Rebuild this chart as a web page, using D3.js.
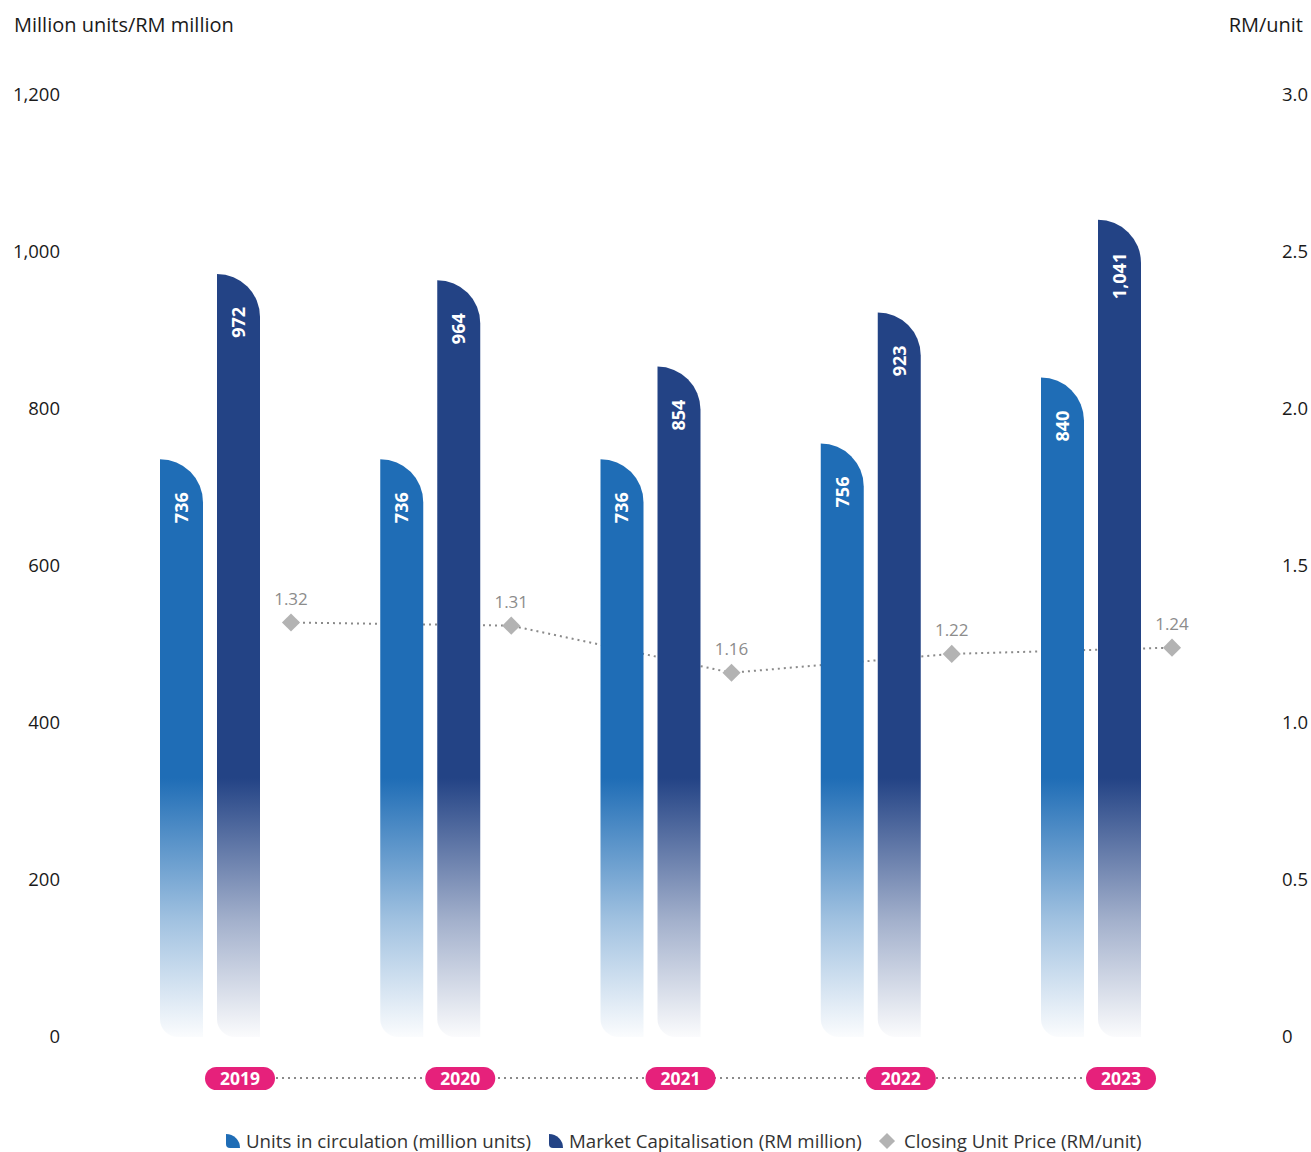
<!DOCTYPE html>
<html lang="en">
<head>
  <meta charset="UTF-8">
  <title>Units, Market Capitalisation and Closing Unit Price</title>
  <script src="https://d3js.org/d3.v7.min.js"></script>
  <style>
    body { margin: 0; background: #fff; }
    text { font-family: "Open Sans", sans-serif; }
  </style>
</head>
<body>
  <script>
    // chart data
    const years = ["2019", "2020", "2021", "2022", "2023"];
    const units = [736, 736, 736, 756, 840];
    const marketCap = [972, 964, 854, 923, 1041];
    const price = [1.32, 1.31, 1.16, 1.22, 1.24];
    const leftTicks = [0, 200, 400, 600, 800, 1000, 1200];
    const rightTicks = [0, 0.5, 1.0, 1.5, 2.0, 2.5, 3.0];

    const width = 1311;
    const height = 1152;

    const unitsColor = "#1f6db6";
    const capColor = "#234385";
    const pink = "#e6217b";

    const svg = d3.select("body")
      .append("svg")
      .attr("width", width)
      .attr("height", height);

    // scales
    const x = d3.scalePoint().domain(years).range([240, 1121]);
    const yLeft = d3.scaleLinear().domain([0, 1200]).range([1037, 95]);
    const yRight = d3.scaleLinear().domain([0, 3]).range([1037, 95]);

    const barW = 43;

    // gradients fading the lower part of the bars
    const defs = svg.append("defs");
    [["gUnits", unitsColor], ["gCap", capColor]].forEach(([id, c]) => {
      const g = defs.append("linearGradient")
        .attr("id", id)
        .attr("gradientUnits", "userSpaceOnUse")
        .attr("x1", 0).attr("x2", 0)
        .attr("y1", yLeft(330)).attr("y2", yLeft(0));
      g.append("stop").attr("offset", 0).attr("stop-color", c).attr("stop-opacity", 1);
      g.append("stop").attr("offset", 0.55).attr("stop-color", c).attr("stop-opacity", 0.42);
      g.append("stop").attr("offset", 1).attr("stop-color", c).attr("stop-opacity", 0.02);
    });

    // axis titles
    svg.append("text")
      .attr("x", 14).attr("y", 32)
      .attr("font-size", 20).attr("fill", "#1a1a1a")
      .text("Million units/RM million");
    svg.append("text")
      .attr("x", 1303).attr("y", 32)
      .attr("text-anchor", "end")
      .attr("font-size", 20).attr("fill", "#1a1a1a")
      .text("RM/unit");

    // left and right axes (labels only)
    const leftAxis = d3.axisLeft(yLeft)
      .tickValues(leftTicks)
      .tickFormat(d3.format(","))
      .tickSize(0).tickPadding(0);
    svg.append("g")
      .attr("transform", "translate(60,0)")
      .call(leftAxis)
      .call(g => g.select(".domain").remove())
      .selectAll("text")
      .attr("font-size", 18.5).attr("fill", "#1a1a1a")
      .style("font-family", "'Open Sans', sans-serif");

    const rightAxis = d3.axisRight(yRight)
      .tickValues(rightTicks)
      .tickFormat(d => d === 0 ? "0" : d3.format(".1f")(d))
      .tickSize(0).tickPadding(0);
    svg.append("g")
      .attr("transform", "translate(1282,0)")
      .call(rightAxis)
      .call(g => g.select(".domain").remove())
      .selectAll("text")
      .attr("font-size", 18.5).attr("fill", "#1a1a1a")
      .style("font-family", "'Open Sans', sans-serif");

    // dotted lines go first so bars and pills cover them
    const priceX = d => x(d) + 51;
    const line = d3.line()
      .x((d, i) => priceX(years[i]))
      .y(d => yRight(d));
    svg.append("path")
      .datum(price)
      .attr("d", line)
      .attr("fill", "none")
      .attr("stroke", "#8a8a8a")
      .attr("stroke-width", 2)
      .attr("stroke-dasharray", "2,4");

    svg.append("line")
      .attr("x1", x(years[0])).attr("x2", x(years[years.length - 1]))
      .attr("y1", 1078).attr("y2", 1078)
      .attr("stroke", "#8a8a8a")
      .attr("stroke-width", 2)
      .attr("stroke-dasharray", "2,4");

    // bar shape: big round top-right corner, small round bottom-left
    function barPath(x0, top, w, bottom) {
      const r = Math.min(w, bottom - top);
      const rb = 18;
      return `M${x0},${top}` +
        `A${r},${r} 0 0 1 ${x0 + w},${top + r}` +
        `L${x0 + w},${bottom}` +
        `L${x0 + rb},${bottom}` +
        `A${rb},${rb} 0 0 1 ${x0},${bottom - rb}Z`;
    }

    const groups = svg.selectAll(".yr")
      .data(years)
      .enter()
      .append("g")
      .attr("class", "yr");

    groups.append("path")
      .attr("d", (d, i) => barPath(x(d) - 80, yLeft(units[i]), barW, yLeft(0)))
      .attr("fill", "url(#gUnits)");
    groups.append("path")
      .attr("d", (d, i) => barPath(x(d) - 23, yLeft(marketCap[i]), barW, yLeft(0)))
      .attr("fill", "url(#gCap)");

    // value labels inside bars
    const fmt = d3.format(",");
    groups.append("text")
      .attr("transform", (d, i) => `translate(${x(d) - 80 + barW / 2},${yLeft(units[i]) + 33}) rotate(-90)`)
      .attr("text-anchor", "end")
      .attr("dy", "0.35em")
      .attr("font-size", 18).attr("font-weight", 700).attr("fill", "#fff")
      .text((d, i) => fmt(units[i]));
    groups.append("text")
      .attr("transform", (d, i) => `translate(${x(d) - 23 + barW / 2},${yLeft(marketCap[i]) + 33}) rotate(-90)`)
      .attr("text-anchor", "end")
      .attr("dy", "0.35em")
      .attr("font-size", 18).attr("font-weight", 700).attr("fill", "#fff")
      .text((d, i) => fmt(marketCap[i]));

    // price markers and labels
    const diamond = d3.symbol().type(d3.symbolDiamond2).size(210);
    groups.append("path")
      .attr("d", diamond)
      .attr("transform", (d, i) => `translate(${priceX(d)},${yRight(price[i])})`)
      .attr("fill", "#b3b3b3");
    groups.append("text")
      .attr("x", d => priceX(d))
      .attr("y", (d, i) => yRight(price[i]) - 18)
      .attr("text-anchor", "middle")
      .attr("font-size", 17).attr("fill", "#8c8c8c")
      .text((d, i) => price[i].toFixed(2));

    // year pills
    groups.append("rect")
      .attr("x", d => x(d) - 35)
      .attr("y", 1067)
      .attr("width", 70).attr("height", 23)
      .attr("rx", 11.5)
      .attr("fill", pink);
    groups.append("text")
      .attr("x", d => x(d))
      .attr("y", 1079)
      .attr("dy", "0.35em")
      .attr("text-anchor", "middle")
      .attr("font-size", 17.5).attr("font-weight", 700).attr("fill", "#fff")
      .text(d => d);

    // legend
    const legY = 1141;
    function legendIcon(x0, c) {
      svg.append("path")
        .attr("d", `M${x0},${legY - 7}A14,14 0 0 1 ${x0 + 14},${legY + 7}L${x0 + 4},${legY + 7}A4,4 0 0 1 ${x0},${legY + 3}Z`)
        .attr("fill", c);
    }
    legendIcon(226, unitsColor);
    legendIcon(549, capColor);
    svg.append("path")
      .attr("d", d3.symbol().type(d3.symbolDiamond2).size(165))
      .attr("transform", `translate(887,${legY})`)
      .attr("fill", "#b3b3b3");

    const legendItems = [
      [246, "Units in circulation (million units)"],
      [569, "Market Capitalisation (RM million)"],
      [904, "Closing Unit Price (RM/unit)"]
    ];
    legendItems.forEach(([lx, t]) => {
      svg.append("text")
        .attr("x", lx).attr("y", legY)
        .attr("dy", "0.35em")
        .attr("font-size", 18.7).attr("fill", "#333")
        .text(t);
    });
  </script>
</body>
</html>
